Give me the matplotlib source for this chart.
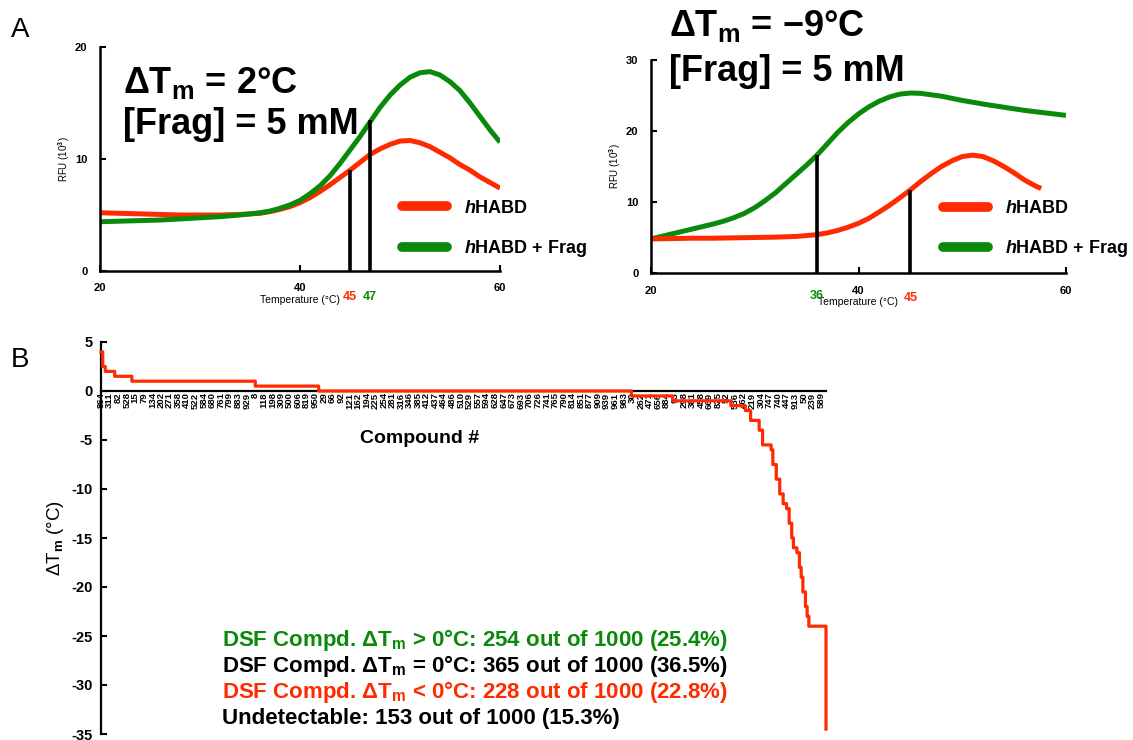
import numpy as np
import matplotlib.pyplot as plt
from matplotlib.lines import Line2D

plt.rcParams['font.family'] = ['Liberation Sans', 'DejaVu Sans']
plt.rcParams['font.weight'] = 'bold'
plt.rcParams['mathtext.fontset'] = 'custom'
plt.rcParams['mathtext.rm'] = 'Liberation Sans:bold'
plt.rcParams['mathtext.it'] = 'Liberation Sans:bold:italic'
plt.rcParams['mathtext.bf'] = 'Liberation Sans:bold'
plt.rcParams['mathtext.default'] = 'rm'
plt.rcParams['axes.unicode_minus'] = False

RED = '#ff2a00'
GREEN = '#0a8a0a'

# ---- panel A, left (dTm = +2) ----
temp_left = [20, 22, 24, 26, 28, 30, 32, 34, 36, 37, 38, 39, 40, 41, 42, 43, 44, 45, 46, 47,
             48, 49, 50, 51, 52, 53, 54, 55, 56, 57, 58, 59, 60]
rfu_left_apo = [5.2, 5.15, 5.1, 5.05, 5.0, 5.0, 5.0, 5.05, 5.15, 5.3, 5.5, 5.75, 6.1, 6.55, 7.1, 7.7,
                8.35, 9.0, 9.7, 10.4, 10.9, 11.3, 11.6, 11.65, 11.45, 11.1, 10.6, 10.1, 9.5, 9.0,
                8.4, 7.9, 7.4]
rfu_left_frag = [4.4, 4.45, 4.5, 4.55, 4.65, 4.75, 4.85, 5.0, 5.2, 5.35, 5.6, 5.9, 6.3, 6.9, 7.6, 8.5,
                 9.6, 10.8, 12.0, 13.3, 14.6, 15.7, 16.6, 17.3, 17.7, 17.8, 17.5, 16.9, 16.1, 15.0,
                 13.8, 12.6, 11.5]
tm_left = [45, 47]
tm_left_top = [9.0, 13.5]

# ---- panel A, right (dTm = -9) ----
temp_right_frag = [20, 22, 24, 26, 27, 28, 29, 30, 31, 32, 33, 34, 35, 36, 37, 38, 39, 40, 41, 42,
                   43, 44, 45, 46, 47, 48, 50, 52, 54, 56, 58, 60]
rfu_right_frag = [4.8, 5.5, 6.2, 6.9, 7.3, 7.8, 8.4, 9.2, 10.2, 11.3, 12.6, 13.9, 15.2, 16.6, 18.2,
                  19.8, 21.2, 22.4, 23.4, 24.2, 24.8, 25.2, 25.35, 25.3, 25.1, 24.9, 24.3, 23.8,
                  23.35, 22.9, 22.55, 22.2]
temp_right_apo = [20, 22, 24, 26, 28, 30, 32, 34, 36, 37, 38, 39, 40, 41, 42, 43, 44, 45, 46, 47,
                  48, 49, 50, 51, 52, 53, 54, 55, 56, 57, 57.6]
rfu_right_apo = [4.8, 4.85, 4.9, 4.9, 4.95, 5.0, 5.05, 5.15, 5.4, 5.65, 6.0, 6.45, 7.0, 7.7, 8.6,
                 9.55, 10.6, 11.7, 12.9, 14.0, 15.0, 15.8, 16.4, 16.6, 16.4, 15.8, 15.0, 14.1,
                 13.1, 12.3, 11.9]
tm_right = [36, 45]
tm_right_top = [16.6, 11.7]

# ---- panel B: dTm per compound, run-length (level, count) ----
dtm_levels = [4, 2.5, 2, 1.5, 1, 0.5, 0, -0.5, -1, -1.5, -2, -3, -4, -5.5, -6, -7.5, -9,
              -10.5, -11.5, -12, -13.5, -15, -16, -16.5, -18, -19, -20.5, -22, -23, -24, -34.5]
dtm_counts = [2, 3, 11, 20, 144, 74, 365, 48, 68, 17, 6, 10, 4, 10, 2, 4, 4,
              4, 4, 3, 3, 2, 4, 3, 2, 2, 3, 2, 2, 20, 1]
compound_labels = ['864', '311', '82', '528', '15', '79', '134', '202', '271', '358', '410', '522',
                   '584', '680', '761', '799', '883', '929', '8', '118', '198', '309', '500', '606',
                   '819', '950', '29', '66', '92', '121', '162', '194', '225', '254', '281', '316',
                   '346', '385', '412', '437', '464', '486', '510', '529', '557', '594', '628', '647',
                   '673', '693', '706', '726', '741', '765', '790', '814', '851', '877', '909', '939',
                   '961', '983', '30', '262', '471', '656', '884', '93', '298', '381', '458', '669',
                   '825', '52', '536', '462', '219', '304', '747', '740', '447', '913', '50', '239', '589']

W, H = 1133, 740
fig = plt.figure(figsize=(W / 100, H / 100), dpi=100)


def fx(px):
    return px / W


def fy(py):
    return 1 - py / H


def style_a(ax, ymax):
    for s in ['top', 'right']:
        ax.spines[s].set_visible(False)
    for s in ['left', 'bottom']:
        ax.spines[s].set_linewidth(1.8)
    ax.set_xlim(20, 60)
    ax.set_ylim(0, ymax)
    ax.set_xticks([20, 40, 60])
    ax.set_yticks(range(0, ymax + 1, 10))
    ax.tick_params(direction='in', length=4, width=1.5, labelsize=8, pad=9)
    ax.set_xlabel('Temperature (°C)', fontsize=7.5, labelpad=1)
    ax.set_ylabel('RFU (10$^3$)', fontsize=7, labelpad=2)


def legend_a(ax, x, y):
    handles = [Line2D([], [], color=RED, lw=7, solid_capstyle='round'),
               Line2D([], [], color=GREEN, lw=7, solid_capstyle='round')]
    ax.legend(handles, ['$\\it{h}$HABD', '$\\it{h}$HABD + Frag'], loc='upper left',
              bbox_to_anchor=(x, y), frameon=False, fontsize=13, handlelength=2.5,
              handletextpad=0.95, labelspacing=1.18, borderpad=0, borderaxespad=0)


# left A
axl = fig.add_axes([fx(100), fy(271), fx(400), 224 / H])
axl.plot(temp_left, rfu_left_apo, color=RED, lw=3.6, solid_capstyle='butt')
axl.plot(temp_left, rfu_left_frag, color=GREEN, lw=3.6, solid_capstyle='butt')
axl.vlines(tm_left, 0, tm_left_top, color='black', lw=2.6)
style_a(axl, 20)
legend_a(axl, 0.755, 0.318)
axl.text(45, -2.3, '45', color=RED, fontsize=9, ha='center', va='center')
axl.text(47, -2.3, '47', color=GREEN, fontsize=9, ha='center', va='center')

# right A
axr = fig.add_axes([fx(651), fy(273), fx(415), 213 / H])
axr.plot(temp_right_frag, rfu_right_frag, color=GREEN, lw=3.6, solid_capstyle='butt')
axr.plot(temp_right_apo, rfu_right_apo, color=RED, lw=3.6, solid_capstyle='butt')
axr.vlines(tm_right, 0, tm_right_top, color='black', lw=2.6)
style_a(axr, 30)
legend_a(axr, 0.704, 0.343)
axr.text(36, -3.3, '36', color=GREEN, fontsize=9, ha='center', va='center')
axr.text(45, -3.5, '45', color=RED, fontsize=9, ha='center', va='center')

fig.text(fx(123), fy(93), 'ΔT$_\\mathrm{m}$ = 2°C', fontsize=26, va='baseline')
fig.text(fx(123), fy(134), '[Frag] = 5 mM', fontsize=26, va='baseline')
fig.text(fx(669), fy(36), 'ΔT$_\\mathrm{m}$ = \u22129°C', fontsize=26, va='baseline')
fig.text(fx(669), fy(81), '[Frag] = 5 mM', fontsize=26, va='baseline')
fig.text(fx(11), fy(37), 'A', fontsize=20, weight='normal', va='baseline')
fig.text(fx(11), fy(367), 'B', fontsize=20, weight='normal', va='baseline')

# panel B
dtm = np.repeat(dtm_levels, dtm_counts)
idx = np.arange(len(dtm))
axb = fig.add_axes([fx(101), fy(734), fx(725), 392 / H])
axb.plot(idx, dtm, drawstyle='steps-post', color=RED, lw=2.3, clip_on=False, zorder=3)
axb.set_xlim(0, len(dtm) - 1)
axb.set_ylim(-35, 5)
for s in ['top', 'right']:
    axb.spines[s].set_visible(False)
axb.spines['bottom'].set_position(('data', 0))
axb.spines['bottom'].set_linewidth(1.6)
axb.spines['left'].set_linewidth(1.6)
axb.set_xticks(idx[::10])
axb.set_xticklabels(compound_labels, rotation=90, fontsize=6.8, va='top')
axb.tick_params(axis='x', length=0, pad=1)
axb.set_yticks(range(-35, 6, 5))
axb.tick_params(axis='y', direction='in', length=4, width=1.5, labelsize=10.5, pad=6)
axb.set_ylabel('ΔT$_\\mathrm{m}$ (°C)', fontsize=13.5, labelpad=4)
axb.text(0.44, 0.755, 'Compound #', transform=axb.transAxes, fontsize=14, ha='center', va='center')

summary_lines = ['DSF Compd. ΔT$_\\mathrm{m}$ > 0°C: 254 out of 1000 (25.4%)',
                 'DSF Compd. ΔT$_\\mathrm{m}$ = 0°C: 365 out of 1000 (36.5%)',
                 'DSF Compd. ΔT$_\\mathrm{m}$ < 0°C: 228 out of 1000 (22.8%)',
                 'Undetectable: 153 out of 1000 (15.3%)']
summary_colors = [GREEN, 'black', RED, 'black']
summary_y = [646, 672, 698, 724]
for txt, c, yy in zip(summary_lines, summary_colors, summary_y):
    fig.text(fx(222), fy(yy), txt, color=c, fontsize=16, va='baseline')

fig.savefig('out.png', dpi=100)
